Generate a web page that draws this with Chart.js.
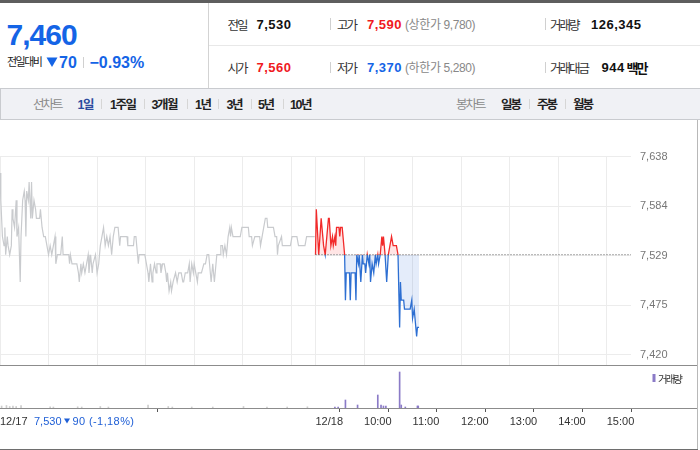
<!DOCTYPE html>
<html lang="ko">
<head>
<meta charset="utf-8">
<script src="https://cdn.jsdelivr.net/npm/chart.js@4.4.1/dist/chart.umd.min.js"></script>
<style>
  html, body { margin: 0; padding: 0; background: #fff; }
  body { width: 700px; height: 450px; position: relative; overflow: hidden; }
  .abs { position: absolute; left: 0; top: 0; }
  .num { font-family: "Liberation Sans", Arial, sans-serif; font-weight: bold; }
  .ko { font-family: "Noto Sans CJK KR", sans-serif; }
  .mix { font-family: "Liberation Sans", "Noto Sans CJK KR", sans-serif; }
</style>
</head>
<body>

<!-- 상단 시세 요약 + 툴바 -->
<svg class="abs" width="700" height="150">
  <rect x="0" y="0" width="700" height="3" fill="#5e5e5e"/>
  <line x1="208.5" y1="3" x2="208.5" y2="88" stroke="#d3d3d3"/>
  <line x1="209" y1="45.5" x2="700" y2="45.5" stroke="#e8e8e8"/>

  <text x="6.5" y="45" class="num" font-size="30" letter-spacing="-1" fill="#1464e6">7,460</text>
  <text x="7" y="66" class="ko" font-size="11" letter-spacing="-1.5" fill="#222">전일대비</text>
  <polygon points="46.5,57.5 57.5,57.5 52,67" fill="#1464e6"/>
  <text x="59" y="68" class="num" font-size="16" fill="#1464e6">70</text>
  <line x1="83.5" y1="57" x2="83.5" y2="68" stroke="#d0d0d0"/>
  <text x="89.5" y="68" class="num" font-size="16" fill="#1464e6">−0.93%</text>

  <text x="227.5" y="29.5" class="ko" font-size="12.5" letter-spacing="-2" fill="#333">전일</text>
  <text x="256.5" y="28.5" class="num" font-size="13" letter-spacing="0.5" fill="#111">7,530</text>
  <line x1="330.5" y1="18" x2="330.5" y2="30" stroke="#d0d0d0"/>
  <text x="337" y="29.5" class="ko" font-size="12.5" letter-spacing="-2" fill="#333">고가</text>
  <text x="367" y="28.5" class="num" font-size="13" letter-spacing="0.5" fill="#f0191e">7,590</text>
  <text x="405" y="29" class="mix" font-size="12" letter-spacing="-0.4" fill="#888">(상한가 9,780)</text>
  <line x1="545.5" y1="18" x2="545.5" y2="30" stroke="#d0d0d0"/>
  <text x="550" y="29.5" class="ko" font-size="12.5" letter-spacing="-2" fill="#333">거래량</text>
  <text x="591" y="28.5" class="num" font-size="13" letter-spacing="0.5" fill="#111">126,345</text>

  <text x="227.5" y="72.5" class="ko" font-size="12.5" letter-spacing="-2" fill="#333">시가</text>
  <text x="256.5" y="71.7" class="num" font-size="13" letter-spacing="0.5" fill="#f0191e">7,560</text>
  <line x1="330.5" y1="62" x2="330.5" y2="73" stroke="#d0d0d0"/>
  <text x="337" y="72.5" class="ko" font-size="12.5" letter-spacing="-2" fill="#333">저가</text>
  <text x="367" y="71.7" class="num" font-size="13" letter-spacing="0.5" fill="#1464e6">7,370</text>
  <text x="405" y="72.2" class="mix" font-size="12" letter-spacing="-0.4" fill="#888">(하한가 5,280)</text>
  <line x1="545.5" y1="62" x2="545.5" y2="73" stroke="#d0d0d0"/>
  <text x="550" y="72.5" class="ko" font-size="12.5" letter-spacing="-2" fill="#333">거래대금</text>
  <text x="601.5" y="71.7" class="num" font-size="13" letter-spacing="0.5" fill="#111">944</text>
  <text x="626.5" y="72.5" class="ko" font-size="13" font-weight="bold" letter-spacing="-2" fill="#111">백만</text>

  <rect x="0" y="88" width="700" height="32" fill="#f0f1f5"/>
  <line x1="0" y1="88.5" x2="700" y2="88.5" stroke="#c9cbcf"/>
  <line x1="0" y1="119.5" x2="700" y2="119.5" stroke="#c9cbcf"/>
  <line x1="0.5" y1="88" x2="0.5" y2="120" stroke="#c9cbcf"/>
  <g class="mix" font-size="12.5" letter-spacing="-1.5" font-weight="bold" fill="#222">
    <text x="33" y="109" font-weight="normal" fill="#8a8a8a" class="ko" letter-spacing="-2">선차트</text>
    <text x="77.5" y="109" fill="#2c4a9e">1일</text>
    <text x="110" y="109">1주일</text>
    <text x="151.5" y="109">3개월</text>
    <text x="195" y="109">1년</text>
    <text x="226.5" y="109">3년</text>
    <text x="258" y="109">5년</text>
    <text x="290" y="109">10년</text>
    <text x="456" y="109" font-weight="normal" fill="#8a8a8a" class="ko" letter-spacing="-2">봉차트</text>
    <text x="501" y="109" class="ko" letter-spacing="-2">일봉</text>
    <text x="537" y="109" class="ko" letter-spacing="-2">주봉</text>
    <text x="573" y="109" class="ko" letter-spacing="-2">월봉</text>
  </g>
  <g stroke="#d6d6d6">
    <line x1="101.5" y1="99" x2="101.5" y2="109"/>
    <line x1="144.5" y1="99" x2="144.5" y2="109"/>
    <line x1="187.5" y1="99" x2="187.5" y2="109"/>
    <line x1="218.5" y1="99" x2="218.5" y2="109"/>
    <line x1="251.5" y1="99" x2="251.5" y2="109"/>
    <line x1="283.5" y1="99" x2="283.5" y2="109"/>
    <line x1="529.5" y1="99" x2="529.5" y2="109"/>
    <line x1="565.5" y1="99" x2="565.5" y2="109"/>
  </g>
</svg>

<canvas id="priceChart" class="abs" width="698" height="216" style="top:150px"></canvas>
<canvas id="volChart" class="abs" width="698" height="83" style="top:366px"></canvas>

<!-- 패널 테두리, 범례, 전일 종가 표시 -->
<svg class="abs" width="700" height="450" style="pointer-events:none">
  <line x1="0" y1="365.5" x2="698" y2="365.5" stroke="#8c8c8c"/>
  <line x1="0" y1="408.5" x2="698" y2="408.5" stroke="#8c8c8c"/>
  <line x1="697.5" y1="120" x2="697.5" y2="449" stroke="#b8b8b8"/>
  <line x1="0" y1="449.5" x2="698" y2="449.5" stroke="#6e6e6e"/>
  <rect x="652.5" y="374" width="3" height="8" fill="#8b7bc7"/>
  <text x="658" y="382.5" class="ko" font-size="10.5" letter-spacing="-2" fill="#333">거래량</text>
  <g font-family="Liberation Sans, Arial, sans-serif" font-size="11" fill="#1f5fd6">
    <text x="34" y="424.5">7,530</text>
    <polygon points="64,418.5 70,418.5 67,423.5"/>
    <text x="72.5" y="424.5" letter-spacing="0.4">90 (-1,18%)</text>
  </g>
</svg>

<script>
// 12/17 (전일) 분 단위 가격 - 장 시작 09:00 기준 경과 분
const day1Minute = [0, 1, 3, 5, 6, 7, 9, 10, 12, 14, 15, 16, 18, 20, 21, 23, 24, 25, 26, 28,
  30, 31, 32, 33, 35, 36, 38, 39, 40, 42, 44, 45, 49, 50, 52, 54, 56, 58, 60, 62,
  64, 66, 68, 69, 71, 75, 77, 78, 85, 86, 87, 89, 95, 97, 98, 100, 101, 103, 105, 107,
  109, 110, 112, 114, 115, 118, 120, 122, 124, 126, 128, 130, 132, 134, 136, 138, 140, 142, 146, 148,
  149, 157, 158, 165, 166, 168, 169, 170, 171, 172, 179, 181, 183, 184, 185, 186, 188, 189, 191, 193,
  194, 198, 199, 201, 203, 205, 206, 207, 209, 211, 212, 214, 217, 219, 221, 224, 226, 227, 229, 232,
  234, 235, 237, 239, 240, 242, 244, 245, 249, 252, 254, 256, 258, 259, 261, 263, 265, 267, 268, 272,
  273, 275, 276, 278, 280, 282, 284, 285, 286, 288, 297, 299, 307, 308, 311, 312, 315, 321, 322, 324,
  326, 328, 330, 331, 338, 340, 342, 343, 344, 348, 349, 359, 361, 367, 369, 377, 379, 389];
const day1Price = [7620, 7590, 7550, 7540, 7560, 7530, 7550, 7540, 7530, 7540, 7580, 7570, 7560, 7590, 7550, 7560, 7530, 7500, 7550, 7590,
  7600, 7590, 7550, 7600, 7590, 7610, 7570, 7610, 7570, 7590, 7580, 7570, 7570, 7580, 7560, 7550, 7550, 7540, 7530, 7540,
  7530, 7540, 7550, 7520, 7530, 7530, 7550, 7530, 7530, 7520, 7530, 7520, 7520, 7510, 7500, 7520, 7510, 7520, 7510, 7520,
  7530, 7510, 7530, 7510, 7520, 7530, 7510, 7520, 7540, 7550, 7560, 7540, 7550, 7540, 7550, 7530, 7550, 7560, 7560, 7540,
  7550, 7550, 7540, 7540, 7550, 7550, 7540, 7530, 7520, 7530, 7530, 7520, 7510, 7500, 7510, 7520, 7500, 7510, 7520, 7510,
  7520, 7520, 7510, 7520, 7520, 7510, 7500, 7510, 7490, 7500, 7490, 7500, 7510, 7500, 7510, 7510, 7500, 7500, 7510, 7510,
  7520, 7500, 7520, 7510, 7520, 7510, 7500, 7510, 7510, 7520, 7520, 7530, 7530, 7520, 7500, 7520, 7500, 7520, 7530, 7530,
  7540, 7540, 7530, 7540, 7530, 7550, 7560, 7550, 7560, 7550, 7550, 7560, 7560, 7550, 7550, 7540, 7550, 7550, 7540, 7550,
  7560, 7570, 7570, 7560, 7560, 7550, 7550, 7530, 7540, 7550, 7540, 7540, 7550, 7550, 7540, 7540, 7550, 7550];

// 12/18 (당일) 분 단위 가격
const day2Minute = [0, 1, 4, 7, 10, 12, 16, 17, 19, 21, 22, 24, 25, 26, 29, 30, 31, 33, 34, 36,
  37, 38, 42, 43, 44, 49, 50, 51, 53, 54, 56, 58, 59, 61, 62, 64, 66, 67, 68, 70,
  72, 74, 75, 77, 78, 80, 82, 83, 84, 86, 88, 90, 92, 94, 96, 100, 102, 103, 104, 105,
  106, 109, 110, 117, 119, 120, 122, 123, 125, 126, 128];
const day2Price = [7530, 7580, 7530, 7570, 7540, 7530, 7570, 7570, 7540, 7550, 7540, 7550, 7540, 7560, 7560, 7550, 7560, 7560, 7550, 7530,
  7480, 7510, 7510, 7480, 7510, 7510, 7480, 7530, 7520, 7530, 7500, 7530, 7520, 7520, 7510, 7530, 7520, 7530, 7500, 7520,
  7510, 7530, 7520, 7530, 7520, 7530, 7550, 7540, 7550, 7530, 7500, 7530, 7540, 7550, 7540, 7540, 7530, 7530, 7450, 7500,
  7480, 7480, 7470, 7470, 7480, 7460, 7470, 7460, 7440, 7450, 7450];

// 거래량
const day1VolMinute = [2, 8, 12, 16, 20, 26, 62, 66, 96, 101, 124, 134, 183, 208, 213, 237, 263, 301, 330, 355, 380];
const day1Vol = [2000, 2500, 1500, 2000, 1500, 2500, 1200, 1000, 1200, 1000, 1500, 1000, 3000, 1500, 1000, 1000, 1000, 1500, 1000, 1000, 1200];
const day2VolMinute = [24, 28, 37, 52, 77, 81, 84, 87, 104, 106, 111, 126, 127];
const day2Vol = [1000, 1000, 8000, 3000, 13000, 3000, 2000, 2000, 36000, 3000, 1000, 2000, 2000];

const prevClose = 7530;
const dayLength = 390;

// 축
const yTickValues = [7420, 7474.5, 7529, 7583.5, 7638];
const yTickLabels = ['7,420', '7,475', '7,529', '7,584', '7,638'];
const gridMinutes = [0, 60, 120, 180, 240, 300, 360, 390, 450, 510, 570, 630, 690, 750];
const xTickMinutes = [0, 390, 450, 510, 570, 630, 690, 750];
const xTickLabels = ['12/17', '12/18', '10:00', '11:00', '12:00', '13:00', '14:00', '15:00'];

const upColor = '#f22a2a';
const downColor = '#2d6fd2';
const axisFont = { family: 'Liberation Sans', size: 11 };

Chart.defaults.font.family = 'Liberation Sans';

const toPoints = (mins, vals, offset) => mins.map((m, i) => ({ x: offset + m, y: vals[i] }));

// 라벨 때문에 생기는 여백은 없애고 layout.padding 으로만 위치를 잡는다
const noLabelPadding = s => { s.paddingTop = 0; s.paddingBottom = 0; s.paddingLeft = 0; s.paddingRight = 0; };

// 전일 종가 기준으로 위는 빨강, 아래는 파랑
function splitColor(ctx) {
  const chart = ctx.chart;
  const area = chart.chartArea;
  if (!area) return upColor;
  const yb = chart.scales.y.getPixelForValue(prevClose);
  const f = Math.min(Math.max((yb - area.top) / (area.bottom - area.top), 0), 1);
  const g = chart.ctx.createLinearGradient(0, area.top, 0, area.bottom);
  g.addColorStop(0, upColor);
  g.addColorStop(f, upColor);
  g.addColorStop(f, downColor);
  g.addColorStop(1, downColor);
  return g;
}

new Chart(document.getElementById('priceChart'), {
  type: 'line',
  data: {
    datasets: [
      {
        data: [{ x: dayLength, y: prevClose }, { x: dayLength * 2, y: prevClose }],
        borderColor: '#555',
        borderWidth: 1,
        borderDash: [1, 2],
        pointRadius: 0,
        fill: false
      },
      {
        data: toPoints(day2Minute, day2Price, dayLength),
        borderColor: splitColor,
        borderWidth: 1.3,
        pointRadius: 0,
        fill: { target: { value: prevClose }, above: 'rgba(255,45,45,0.12)', below: 'rgba(45,110,215,0.13)' }
      },
      {
        data: toPoints(day1Minute, day1Price, 0),
        borderColor: '#c9cbce',
        borderWidth: 1.2,
        pointRadius: 0,
        fill: false
      }
    ]
  },
  options: {
    responsive: false,
    animation: false,
    events: [],
    layout: { padding: { top: 6.6, bottom: 1, left: 0, right: 0 } },
    plugins: { legend: { display: false }, tooltip: { enabled: false } },
    scales: {
      x: {
        type: 'linear',
        min: 0,
        max: dayLength * 2,
        afterBuildTicks: s => { s.ticks = gridMinutes.map(v => ({ value: v })); },
        afterFit: s => { s.height = 0; noLabelPadding(s); },
        ticks: { display: false },
        grid: { color: '#ececec', drawTicks: false },
        border: { display: false }
      },
      y: {
        position: 'right',
        min: 7408.6,
        max: 7638,
        afterBuildTicks: s => { s.ticks = yTickValues.map(v => ({ value: v })); },
        afterFit: s => { s.width = 67; noLabelPadding(s); },
        ticks: {
          padding: 9,
          color: '#777',
          font: axisFont,
          callback: (v, i) => yTickLabels[i]
        },
        grid: { color: '#ececec', drawTicks: false },
        border: { display: false }
      }
    }
  }
});

new Chart(document.getElementById('volChart'), {
  type: 'bar',
  data: {
    datasets: [
      { data: toPoints(day1VolMinute, day1Vol, 0), backgroundColor: '#cdcdcd', barThickness: 1 },
      { data: toPoints(day2VolMinute, day2Vol, dayLength), backgroundColor: '#8b7bc7', barThickness: 1 }
    ]
  },
  options: {
    responsive: false,
    animation: false,
    events: [],
    layout: { padding: 0 },
    datasets: { bar: { grouped: false } },
    plugins: { legend: { display: false }, tooltip: { enabled: false } },
    scales: {
      x: {
        type: 'linear',
        min: 0,
        max: dayLength * 2,
        offset: false,
        afterBuildTicks: s => { s.ticks = xTickMinutes.map(v => ({ value: v })); },
        afterFit: s => { s.height = 41; noLabelPadding(s); },
        ticks: {
          align: 'start',
          autoSkip: false,
          maxRotation: 0,
          padding: 3,
          color: '#333',
          font: axisFont,
          callback: (v, i) => xTickLabels[i]
        },
        grid: { drawOnChartArea: false, tickLength: 4, color: '#555' },
        border: { display: false }
      },
      y: {
        position: 'right',
        min: 0,
        max: 42000,
        afterFit: s => { s.width = 67; noLabelPadding(s); },
        ticks: { display: false },
        grid: { display: false },
        border: { display: false }
      }
    }
  }
});
</script>
</body>
</html>
